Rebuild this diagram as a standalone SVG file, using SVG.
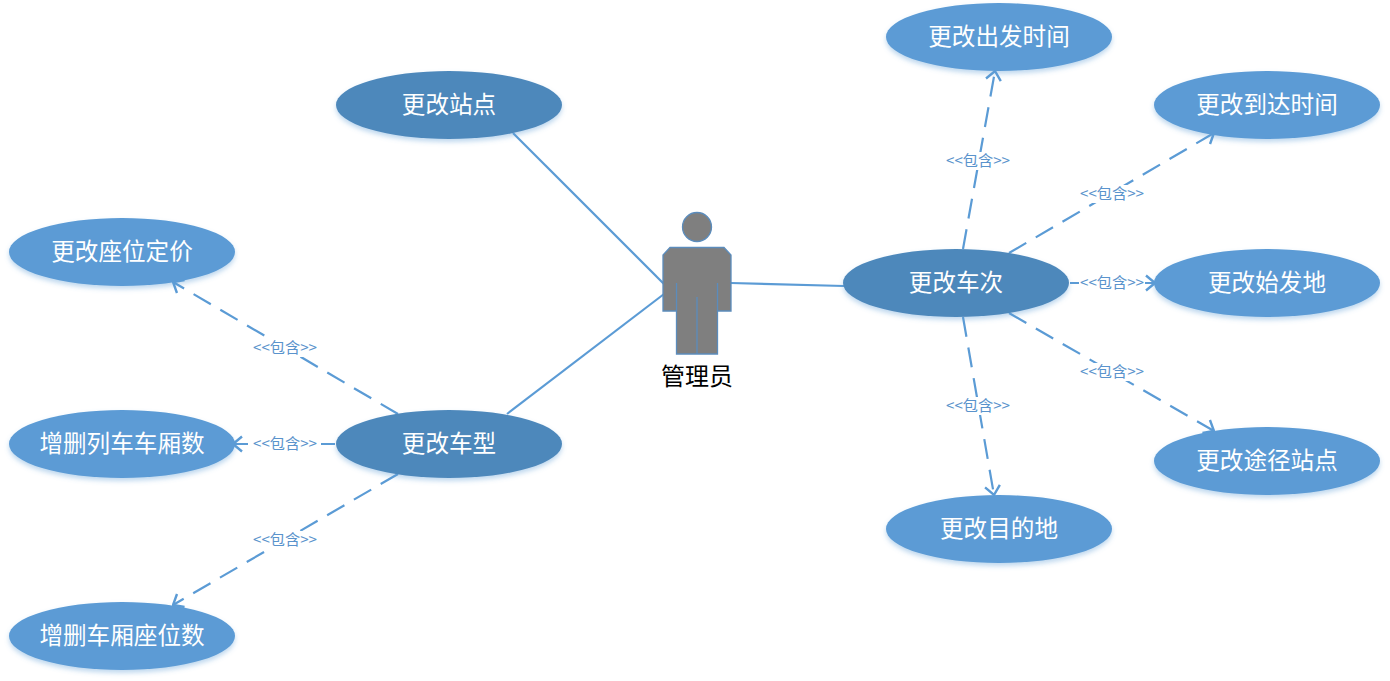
<svg xmlns="http://www.w3.org/2000/svg" width="1390" height="681" viewBox="0 0 1390 681">
<defs>
<filter id="sh" x="-10%" y="-20%" width="120%" height="150%"><feDropShadow dx="0" dy="3" stdDeviation="2.5" flood-color="#5b9bd5" flood-opacity="0.4"/></filter>
<marker id="arr" viewBox="0 0 12 18" refX="11" refY="9" markerWidth="12" markerHeight="18" markerUnits="userSpaceOnUse" orient="auto"><path d="M2 1.5L11 9L2 16.5" fill="none" stroke="#5b9bd5" stroke-width="2.4"/></marker>
</defs>
<style>
text{font-family:"Noto Sans CJK SC","Liberation Sans",sans-serif;text-anchor:middle}
.u ellipse{fill:#5b9bd5;filter:url(#sh)}
.m ellipse{fill:#4e88bb;filter:url(#sh)}
.u text,.m text{fill:#fff;font-size:23.6px}
#connectors line{stroke:#5b9bd5;stroke-width:2.2;fill:none}
#connectors .d{stroke-dasharray:20 11;marker-end:url(#arr)}
#connectors rect{fill:#fff}
#connectors text{fill:#5a93cc;font-size:15.2px}
.a{fill:#7f7f7f;stroke:#5b8cbc;stroke-width:1.3}
</style>
<g id="connectors">
<line x1="513" y1="133" x2="664" y2="284"/>
<line x1="507" y1="414" x2="664" y2="294"/>
<line x1="731" y1="283" x2="844" y2="286"/>
<line class="d" x1="963" y1="249" x2="995" y2="71"/>
<line class="d" x1="1009" y1="253" x2="1214" y2="133"/>
<line class="d" x1="1070" y1="283" x2="1155" y2="283" style="stroke-dasharray:none"/>
<line class="d" x1="1009" y1="313" x2="1214" y2="431"/>
<line class="d" x1="963" y1="317" x2="994" y2="495"/>
<line class="d" x1="398" y1="414" x2="173" y2="282"/>
<line class="d" x1="335" y1="444" x2="233" y2="444" stroke-dashoffset="6"/>
<line class="d" x1="398" y1="474" x2="173" y2="605"/>
<rect x="945" y="152" width="66" height="18"/><text x="978" y="166">&lt;&lt;包含&gt;&gt;</text>
<rect x="1079" y="185" width="66" height="18"/><text x="1112" y="199">&lt;&lt;包含&gt;&gt;</text>
<rect x="1079" y="274" width="66" height="18"/><text x="1112" y="288">&lt;&lt;包含&gt;&gt;</text>
<rect x="1079" y="363" width="66" height="18"/><text x="1112" y="377">&lt;&lt;包含&gt;&gt;</text>
<rect x="945" y="397" width="66" height="18"/><text x="978" y="411">&lt;&lt;包含&gt;&gt;</text>
<rect x="252" y="339" width="66" height="18"/><text x="285" y="353">&lt;&lt;包含&gt;&gt;</text>
<rect x="252" y="435" width="66" height="18"/><text x="285" y="449">&lt;&lt;包含&gt;&gt;</text>
<rect x="252" y="531" width="66" height="18"/><text x="285" y="545">&lt;&lt;包含&gt;&gt;</text>
</g>
<g id="actor">
<circle class="a" cx="697" cy="227" r="14.5"/>
<path class="a" d="M670 247.500H724L731 255V311H717.500V354H676.500V311H663V255Z"/>
<path d="M676.500 283V311M717.500 283V311M697 297V354" stroke="#5b8cbc" stroke-width="1.3" fill="none"/>
<text x="697" y="385" font-size="24" fill="#000">管理员</text>
</g>
<g id="n1" class="m"><ellipse cx="449" cy="105" rx="113" ry="34"/><text x="449" y="113">更改站点</text></g>
<g id="n2" class="u"><ellipse cx="122" cy="252" rx="113" ry="34"/><text x="122" y="260">更改座位定价</text></g>
<g id="n3" class="u"><ellipse cx="122" cy="444" rx="113" ry="34"/><text x="122" y="452">增删列车车厢数</text></g>
<g id="n4" class="m"><ellipse cx="449" cy="444" rx="113" ry="34"/><text x="449" y="452">更改车型</text></g>
<g id="n5" class="u"><ellipse cx="122" cy="636" rx="113" ry="34"/><text x="122" y="644">增删车厢座位数</text></g>
<g id="n6" class="m"><ellipse cx="956" cy="283" rx="113" ry="34"/><text x="956" y="291">更改车次</text></g>
<g id="n7" class="u"><ellipse cx="999" cy="37" rx="113" ry="34"/><text x="999" y="45">更改出发时间</text></g>
<g id="n8" class="u"><ellipse cx="1267" cy="105" rx="113" ry="34"/><text x="1267" y="113">更改到达时间</text></g>
<g id="n9" class="u"><ellipse cx="1267" cy="283" rx="113" ry="34"/><text x="1267" y="291">更改始发地</text></g>
<g id="n10" class="u"><ellipse cx="1267" cy="461" rx="113" ry="34"/><text x="1267" y="469">更改途径站点</text></g>
<g id="n11" class="u"><ellipse cx="999" cy="529" rx="113" ry="34"/><text x="999" y="537">更改目的地</text></g>
</svg>
